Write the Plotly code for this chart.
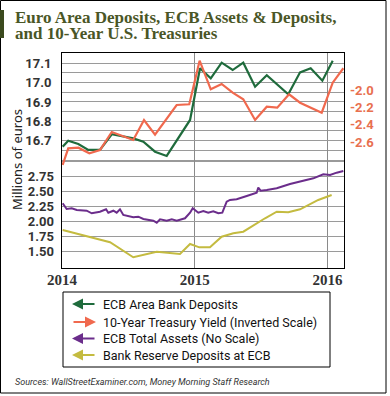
import plotly.graph_objects as go

# ---------------- data ----------------
# ECB Area Bank Deposits (left upper scale)
dep_x = [2014.005, 2014.047, 2014.123, 2014.198, 2014.286, 2014.375, 2014.537, 2014.613,
         2014.701, 2014.789, 2014.965, 2015.040, 2015.121, 2015.203, 2015.286, 2015.366,
         2015.455, 2015.543, 2015.705, 2015.794, 2015.874, 2015.962, 2016.040]
dep_y = [16.669, 16.700, 16.683, 16.652, 16.652, 16.733, 16.712, 16.695,
         16.643, 16.621, 16.807, 17.074, 17.022, 17.103, 17.065, 17.103,
         16.979, 17.038, 16.940, 17.053, 17.074, 17.010, 17.113]

# 10-Year Treasury Yield, inverted scale (right axis)
tsy_x = [2014.005, 2014.047, 2014.123, 2014.206, 2014.286, 2014.375, 2014.537, 2014.618,
         2014.701, 2014.864, 2014.959, 2015.037, 2015.121, 2015.203, 2015.286, 2015.366,
         2015.455, 2015.543, 2015.622, 2015.711, 2015.794, 2015.957, 2016.040, 2016.120]
tsy_y = [-2.86, -2.669, -2.662, -2.726, -2.688, -2.482, -2.573, -2.344,
         -2.513, -2.172, -2.164, -1.664, -1.992, -1.931, -2.031, -2.107,
         -2.344, -2.192, -2.203, -2.049, -2.146, -2.26, -1.916, -1.751]

# ECB Total Assets (no scale; drawn on lower left scale)
ast_x = [2014.005, 2014.035, 2014.073, 2014.111, 2014.186, 2014.224, 2014.286, 2014.332,
         2014.349, 2014.387, 2014.412, 2014.437, 2014.462, 2014.537, 2014.575, 2014.613,
         2014.688, 2014.714, 2014.739, 2014.789, 2014.827, 2014.864, 2014.927, 2014.965,
         2014.985, 2015.015, 2015.027, 2015.065, 2015.102, 2015.140, 2015.178, 2015.208,
         2015.241, 2015.266, 2015.316, 2015.392, 2015.467, 2015.479, 2015.497, 2015.543,
         2015.618, 2015.718, 2015.818, 2015.894, 2015.969, 2016.020, 2016.070, 2016.120]
ast_y = [2.307, 2.212, 2.223, 2.195, 2.183, 2.140, 2.167, 2.207,
         2.150, 2.183, 2.150, 2.207, 2.112, 2.073, 2.083, 2.045,
         2.017, 1.983, 2.040, 2.017, 2.040, 2.017, 2.057, 2.150,
         2.223, 2.167, 2.150, 2.178, 2.150, 2.173, 2.140, 2.150,
         2.333, 2.362, 2.373, 2.428, 2.483, 2.567, 2.517, 2.528,
         2.557, 2.628, 2.683, 2.723, 2.790, 2.778, 2.817, 2.845]

# Bank Reserve Deposits at ECB (lower left scale)
res_x = [2014.005, 2014.362, 2014.537, 2014.714, 2014.889, 2014.965, 2015.035, 2015.115,
         2015.203, 2015.291, 2015.366, 2015.467, 2015.530, 2015.618, 2015.705, 2015.794,
         2015.869, 2015.931, 2016.032]
res_y = [1.862, 1.657, 1.407, 1.500, 1.462, 1.628, 1.572, 1.572,
         1.750, 1.807, 1.833, 1.973, 2.057, 2.167, 2.157, 2.207,
         2.290, 2.362, 2.445]

series_names = ["ECB Area Bank Deposits", "10-Year Treasury Yield (Inverted Scale)",
                "ECB Total Assets (No Scale)", "Bank Reserve Deposits at ECB"]

x_ticks = [2014, 2015, 2016]
x_labels = ["2014", "2015", "2016"]
upper_ticks = [16.7, 16.8, 16.9, 17.0, 17.1]
upper_labels = ["16.7", "16.8", "16.9", "17.0", "17.1"]
upper_minor = [16.6, 16.65, 16.75, 16.85, 16.95, 17.05]
lower_ticks = [1.5, 1.75, 2.0, 2.25, 2.5, 2.75]
lower_labels = ["1.50", "1.75", "2.00", "2.25", "2.50", "2.75"]
lower_minor = [3.0]
right_ticks = [-2.6, -2.4, -2.2, -2.0]
right_labels = ["-2.6", "-2.4", "-2.2", "-2.0"]

# ---------------- styling ----------------
GREEN = "#1f6b3c"
RED = "#f0694e"
PURPLE = "#6b2d8b"
YELLOW = "#c4bb40"
TITLE_C = "#4a5626"
GRID = "#9a9a9a"

W, H = 390, 396
L, R, T, B = 62, 46, 53, 128
PW, PH = W - L - R, H - T - B


def px(xp):
    return (xp - L) / PW


def py(yp):
    return (H - B - yp) / PH


fig = go.Figure()
fig.add_trace(go.Scatter(x=dep_x, y=dep_y, mode="lines", line=dict(color=GREEN, width=2.2),
                         yaxis="y", name=series_names[0]))
fig.add_trace(go.Scatter(x=tsy_x, y=tsy_y, mode="lines", line=dict(color=RED, width=2.2),
                         yaxis="y3", name=series_names[1]))
fig.add_trace(go.Scatter(x=ast_x, y=ast_y, mode="lines", line=dict(color=PURPLE, width=2),
                         yaxis="y2", name=series_names[2]))
fig.add_trace(go.Scatter(x=res_x, y=res_y, mode="lines", line=dict(color=YELLOW, width=2),
                         yaxis="y2", name=series_names[3]))

tick_font = dict(family="Roboto, Noto Sans, sans-serif", size=13, color="#333333",
                 weight="bold")

fig.update_layout(
    template="none",
    width=W, height=H, autosize=False,
    margin=dict(l=L, r=R, t=T, b=B, pad=0, autoexpand=False),
    paper_bgcolor="white", plot_bgcolor="white",
    showlegend=False,
    xaxis=dict(range=[2014, 2016.125], tickvals=x_ticks, ticktext=x_labels,
               automargin=False,
               showgrid=True, gridcolor="#8a8a8a", gridwidth=1,
               showline=True, linecolor="black", linewidth=1, mirror=True,
               zeroline=False, ticks="", ticklabelstandoff=-2,
               tickfont=dict(family="Liberation Serif, serif", size=15, color="#333333",
                             weight="bold")),
    yaxis=dict(range=[16.042, 17.153], tickvals=upper_ticks, ticktext=upper_labels,
               automargin=False,
               showgrid=True, gridcolor=GRID, gridwidth=1,
               minor=dict(tickvals=upper_minor, showgrid=True, gridcolor=GRID, gridwidth=1,
                          ticks=""),
               showline=True, linecolor="black", linewidth=1, mirror=True,
               zeroline=False, ticks="", ticklabelstandoff=7, tickfont=tick_font),
    yaxis2=dict(range=[1.228, 4.812], tickvals=lower_ticks, ticktext=lower_labels,
                automargin=False,
                overlaying="y", side="left",
                showgrid=True, gridcolor=GRID, gridwidth=1,
                minor=dict(tickvals=lower_minor, showgrid=True, gridcolor=GRID, gridwidth=1,
                           ticks=""),
                showline=False, zeroline=False, ticks="", ticklabelstandoff=7,
                tickfont=tick_font),
    yaxis3=dict(range=[-4.041, -1.576], tickvals=right_ticks, ticktext=right_labels,
                automargin=False,
                overlaying="y", side="right", showgrid=False, showline=False,
                zeroline=False, ticks="", ticklabelstandoff=5,
                tickfont=dict(family="Roboto, Noto Sans, sans-serif", size=13,
                              color="#e8704f", weight="bold")),
)

shapes = []
# outer frame
shapes.append(dict(type="rect", xref="paper", yref="paper",
                   x0=px(0.5), x1=px(386), y0=py(393), y1=py(0.5),
                   line=dict(color="black", width=1)))
# title accent bar
shapes.append(dict(type="rect", xref="paper", yref="paper",
                   x0=px(0), x1=px(4), y0=py(38), y1=py(10),
                   line=dict(width=0), fillcolor="#3b4a1e"))
# legend box
shapes.append(dict(type="rect", xref="paper", yref="paper",
                   x0=px(63), x1=px(330), y0=py(367), y1=py(292),
                   line=dict(color="black", width=1)))
fig.update_layout(shapes=shapes)

ann = []
title_font = dict(family="Liberation Serif, serif", size=17, color=TITLE_C, weight="bold")
ann.append(dict(text="Euro Area Deposits, ECB Assets & Deposits,", xref="paper", yref="paper",
                x=px(13), y=py(17), xanchor="left", yanchor="middle", showarrow=False,
                font=title_font))
ann.append(dict(text="and 10-Year U.S. Treasuries", xref="paper", yref="paper",
                x=px(13), y=py(33), xanchor="left", yanchor="middle", showarrow=False,
                font=title_font))
ann.append(dict(text="Millions of euros", xref="paper", yref="paper",
                x=px(17), y=py(160), xanchor="center", yanchor="middle", showarrow=False,
                textangle=-90,
                font=dict(family="Noto Sans, Roboto, sans-serif", size=13, color="#222222")))

legend_rows = [304, 322, 338.5, 355]
legend_colors = [GREEN, RED, PURPLE, YELLOW]
legend_dirs = ["left", "right", "left", "left"]
for name, row, col, d in zip(series_names, legend_rows, legend_colors, legend_dirs):
    if d == "left":
        ann.append(dict(text="", xref="paper", yref="paper", x=px(72), y=py(row),
                        ax=24, ay=0, showarrow=True, arrowhead=2, arrowsize=1,
                        arrowwidth=2.2, arrowcolor=col))
    else:
        ann.append(dict(text="", xref="paper", yref="paper", x=px(96), y=py(row),
                        ax=-24, ay=0, showarrow=True, arrowhead=2, arrowsize=1,
                        arrowwidth=2.2, arrowcolor=col))
    ann.append(dict(text=name, xref="paper", yref="paper", x=px(101), y=py(row),
                    xanchor="left", yanchor="middle", showarrow=False,
                    font=dict(family="Roboto, sans-serif", size=12.5, color="#111111")))

ann.append(dict(text="Sources: WallStreetExaminer.com, Money Morning Staff Research",
                xref="paper", yref="paper", x=px(13), y=py(382), xanchor="left",
                yanchor="middle", showarrow=False,
                font=dict(family="Roboto, sans-serif", size=9, color="#333333",
                          style="italic")))
fig.update_layout(annotations=ann)

fig.write_html("out.html", config={"displayModeBar": False},
               post_script="document.body.style.margin='0';document.body.style.padding='0';")
